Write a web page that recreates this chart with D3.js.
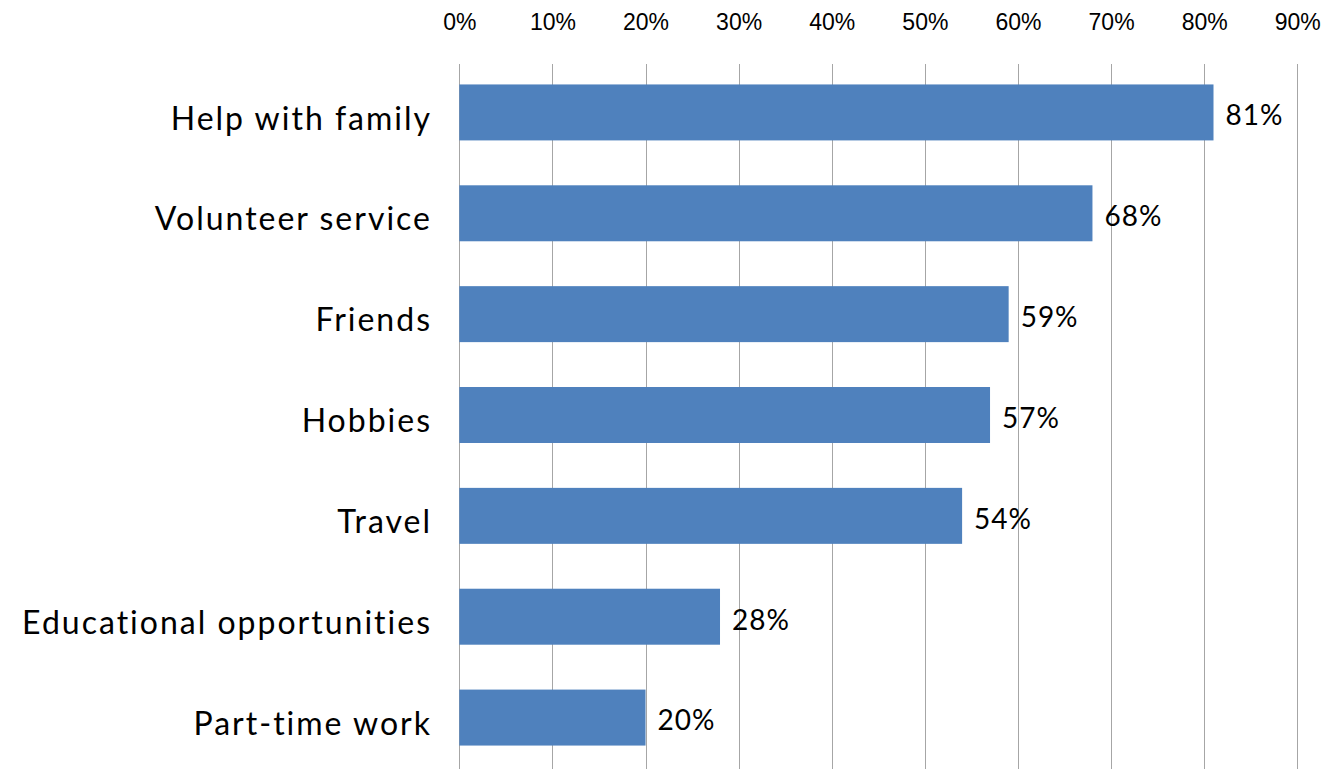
<!DOCTYPE html>
<html>
<head>
<meta charset="utf-8">
<script src="https://cdn.jsdelivr.net/npm/d3@7"></script>
<style>
  html, body { margin: 0; padding: 0; background: #fff; }
  svg { display: block; }
</style>
</head>
<body>
<svg id="chart" width="1338" height="769"></svg>
<script>
const categories = ["Help with family", "Volunteer service", "Friends", "Hobbies", "Travel", "Educational opportunities", "Part-time work"];
const values = [81, 68, 59, 57, 54, 28, 20];
const tickValues = [0, 10, 20, 30, 40, 50, 60, 70, 80, 90];

const svg = d3.select("#chart");
const x = d3.scaleLinear().domain([0, 90]).range([459.3, 1297.3]);
const y = d3.scaleBand().domain(categories).range([62, 768]).paddingInner(0.445).paddingOuter(0.2225);

// gridlines
svg.append("g").selectAll("line").data(tickValues).join("line")
  .attr("x1", d => Math.round(x(d)) + 0.5).attr("x2", d => Math.round(x(d)) + 0.5)
  .attr("y1", 64).attr("y2", 769)
  .attr("stroke", "#a6a6a6").attr("stroke-width", 1);

// top axis labels
const axis = d3.axisTop(x).tickValues(tickValues).tickFormat(d => d + "%").tickSize(0).tickPadding(0);
const ag = svg.append("g").attr("transform", "translate(0,30)").call(axis);
ag.select(".domain").remove();
ag.selectAll("text").attr("font-family", "Liberation Sans, Arial, sans-serif").attr("font-size", 23).attr("fill", "#000").attr("dy", 0);

// bars
svg.append("g").selectAll("rect").data(values).join("rect")
  .attr("x", x(0)).attr("y", (d, i) => y(categories[i]))
  .attr("width", d => x(d) - x(0)).attr("height", y.bandwidth())
  .attr("fill", "#4f81bd");

// value labels
svg.append("g").selectAll("text").data(values).join("text")
  .attr("x", d => x(d) + 12).attr("y", (d, i) => y(categories[i]) + y.bandwidth() / 2 + 3)
  .attr("dy", "0.35em")
  .attr("font-family", "Lato, sans-serif").attr("font-size", 28).attr("letter-spacing", 1).attr("fill", "#000")
  .text(d => d + "%");

// category labels
svg.append("g").selectAll("text").data(categories).join("text")
  .attr("x", 432).attr("y", d => y(d) + y.bandwidth() / 2 + 6)
  .attr("dy", "0.35em").attr("text-anchor", "end")
  .attr("font-family", "Lato, sans-serif").attr("font-size", 32).attr("letter-spacing", 2).attr("fill", "#000")
  .text(d => d);
</script>
</body>
</html>
